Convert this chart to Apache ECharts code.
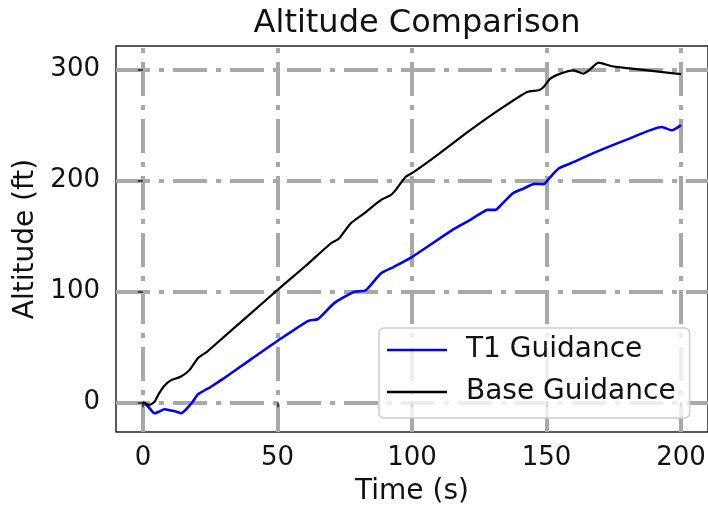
<!DOCTYPE html>
<html>
<head>
<meta charset="utf-8">
<script src="https://cdn.jsdelivr.net/npm/echarts@6/dist/echarts.min.js"></script>
<style>
  html, body { margin: 0; padding: 0; background: #ffffff; }
  #chart { width: 708px; height: 506px; }
</style>
</head>
<body>
<div id="chart"></div>
<script>
// Flight altitude over time for two guidance laws
const t1Time = [0, 2, 4.3, 6, 8, 10.5, 12.5, 14.2, 16, 18.5, 20.4, 25.3, 30, 40, 51.3, 61.5, 65, 71, 78.5, 82.8, 88.4, 93.3, 100.1, 114.9, 120, 126, 128, 131, 133, 137.5, 141.5, 145.5, 148.9, 151, 154.5, 158.8, 168.7, 181, 192.8, 196.5, 200];
const t1Alt = [0, -4, -9.9, -8.5, -6.3, -7.5, -8.5, -9.9, -6.5, 0.5, 7, 14, 21.5, 38.5, 57.5, 73.5, 75, 89.2, 99.6, 101, 116.2, 122.2, 131.2, 155.2, 162.2, 171, 173.5, 173.5, 177.7, 188.5, 192.8, 197, 196.7, 202, 210.8, 215.3, 226, 238, 248.3, 245.3, 250];

const baseTime = [0, 2.5, 4.3, 6, 8, 10.5, 14, 17.3, 20.5, 24, 30, 40, 49.4, 60, 69.8, 72.9, 77.2, 82, 88.4, 92.1, 93.9, 97.6, 100.7, 110, 120, 126.7, 135, 142.8, 147.1, 148.9, 151.4, 155.1, 160, 163.7, 166.2, 169.3, 174.3, 180, 190, 200];
const baseAlt = [0, -2.4, 0.5, 8, 15, 20, 23, 29, 40, 46, 58.8, 80, 100, 122, 143.2, 147.7, 161.3, 170, 182.3, 186.8, 191.3, 203.2, 207.7, 224, 242.5, 254.3, 268, 279.8, 281.4, 284.3, 291.9, 296.4, 299.4, 296.4, 300.3, 306.3, 303, 301.3, 298.6, 296];

const xTicks = [0, 50, 100, 150, 200];
const yTicks = [0, 100, 200, 300];

const seriesNames = ['T1 Guidance', 'Base Guidance'];
const seriesColors = ['#0000ff', '#000000'];

const FONT = 'DejaVu Sans';

function pairs(xs, ys) {
  return xs.map((x, i) => [x, ys[i]]);
}

const gridLine = {
  color: '#a8a8a8',
  width: 4,
  type: [34, 9, 5, 9]
};

const chart = echarts.init(document.getElementById('chart'), null, { renderer: 'canvas' });

chart.setOption({
  backgroundColor: '#ffffff',
  animation: false,
  title: {
    text: 'Altitude Comparison',
    left: 412,
    textAlign: 'center',
    top: 3,
    textStyle: { fontFamily: FONT, fontSize: 32, fontWeight: 'normal', color: '#111111' }
  },
  grid: {
    left: 116,
    top: 46,
    right: 0,
    bottom: 74,
    show: true,
    borderColor: '#222222',
    borderWidth: 1.5,
    backgroundColor: 'transparent',
    containLabel: false,
    outerBoundsMode: 'none'
  },
  legend: {
    orient: 'vertical',
    left: 379,
    top: 328,
    padding: [6, 14, 10, 8],
    icon: 'rect',
    itemWidth: 60,
    itemHeight: 2.5,
    itemGap: 10,
    backgroundColor: 'rgba(255,255,255,0.8)',
    borderColor: '#cccccc',
    borderWidth: 1.5,
    borderRadius: 5,
    textStyle: {
      fontFamily: FONT,
      fontSize: 28,
      color: '#111111',
      lineHeight: 32,
      padding: [0, 0, 0, 14]
    },
    data: seriesNames
  },
  xAxis: {
    type: 'value',
    min: -10,
    max: 210,
    name: 'Time (s)',
    nameLocation: 'middle',
    nameGap: 46,
    nameTextStyle: { fontFamily: FONT, fontSize: 28, color: '#111111' },
    axisLine: { show: false },
    axisTick: { show: true, length: 5, lineStyle: { color: '#222222', width: 1.5 }, customValues: xTicks },
    axisLabel: { fontFamily: FONT, fontSize: 26, color: '#111111', margin: 13, customValues: xTicks },
    splitLine: { show: true, lineStyle: Object.assign({}, gridLine, { dashOffset: 41 }) }
  },
  yAxis: {
    type: 'value',
    min: -26.8,
    max: 321.3,
    name: 'Altitude (ft)',
    nameLocation: 'middle',
    nameGap: 70,
    nameTextStyle: { fontFamily: FONT, fontSize: 28, color: '#111111' },
    axisLine: { show: false },
    axisTick: { show: true, length: 5, lineStyle: { color: '#222222', width: 1.5 }, customValues: yTicks },
    axisLabel: { fontFamily: FONT, fontSize: 26, color: '#111111', margin: 16, customValues: yTicks },
    splitLine: { show: true, lineStyle: gridLine }
  },
  series: [
    {
      name: seriesNames[0],
      type: 'line',
      data: pairs(t1Time, t1Alt),
      symbol: 'none',
      smooth: 0.2,
      color: seriesColors[0],
      lineStyle: { color: seriesColors[0], width: 2.6 },
      z: 3
    },
    {
      name: seriesNames[1],
      type: 'line',
      data: pairs(baseTime, baseAlt),
      symbol: 'none',
      smooth: 0.2,
      color: seriesColors[1],
      lineStyle: { color: seriesColors[1], width: 2.2 },
      z: 3
    }
  ]
});
</script>
</body>
</html>
